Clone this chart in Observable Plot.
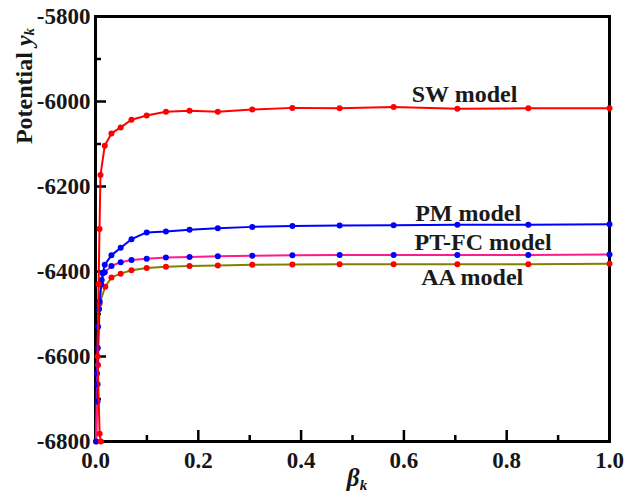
<!DOCTYPE html>
<html>
<head>
<meta charset="utf-8">
<script src="https://cdn.jsdelivr.net/npm/d3@7"></script>
<script src="https://cdn.jsdelivr.net/npm/@observablehq/plot@0.6"></script>
<style>
  html, body { margin: 0; padding: 0; background: #ffffff; }
  #chart { width: 625px; height: 493px; }
</style>
</head>
<body>
<div id="chart"></div>
<script>
// ---- Data ----
const swX = [0.0105, 0.008, 0.004, 0.006, 0.0078, 0.0097, 0.018, 0.031, 0.049, 0.070, 0.0996, 0.137, 0.183, 0.238, 0.305, 0.383, 0.475, 0.58, 0.704, 0.842, 1.0];
const swY = [-6800, -6782, -6600, -6430, -6300, -6173, -6104, -6075, -6061, -6043, -6033, -6024, -6022, -6024, -6019, -6015, -6016, -6013, -6017, -6016, -6016];

const pmX = [0.004, 0.004, 0.0045, 0.007, 0.011, 0.014, 0.018, 0.031, 0.049, 0.070, 0.0996, 0.137, 0.183, 0.238, 0.305, 0.383, 0.475, 0.58, 0.704, 0.842, 1.0];
const pmY = [-6706, -6665, -6580, -6488, -6430, -6404, -6384, -6362, -6344, -6324, -6308, -6306, -6302, -6298, -6295, -6293, -6292, -6291, -6290, -6290, -6289];

const ptX = [0.001, 0.003, 0.005, 0.008, 0.012, 0.018, 0.031, 0.049, 0.070, 0.0996, 0.137, 0.183, 0.238, 0.305, 0.383, 0.475, 0.58, 0.704, 0.842, 1.0];
const ptY = [-6800, -6640, -6530, -6470, -6420, -6402, -6387, -6378, -6373, -6370, -6367, -6366, -6364, -6363, -6362, -6361, -6361, -6361, -6361, -6360];

const aaX = [0.0015, 0.005, 0.008, 0.019, 0.031, 0.049, 0.070, 0.0996, 0.137, 0.183, 0.238, 0.305, 0.383, 0.475, 0.58, 0.704, 0.842, 1.0];
const aaY = [-6800, -6620, -6475, -6436, -6414, -6405, -6397, -6392, -6389, -6387, -6386, -6384, -6383.5, -6383, -6383, -6383, -6383, -6382];

const labelText = ["SW model", "PM model", "PT-FC model", "AA model"];
const labelX = [0.718, 0.725, 0.754, 0.733];
const labelY = [-5983, -6263, -6332, -6414];

const xMajor = [0, 0.2, 0.4, 0.6, 0.8, 1.0];
const xMinor = [0.1, 0.3, 0.5, 0.7, 0.9];
const yMajor = [-5800, -6000, -6200, -6400, -6600, -6800];
const yMinor = [-5900, -6100, -6300, -6500, -6700];

// ---- Build ----
const W = 625, H = 493;
const mL = 95, mR = 16, mT = 16, mB = 52;
const plotW = W - mL - mR, plotH = H - mT - mB;

const toRows = (xs, ys) => xs.map((x, i) => ({x, y: ys[i]}));
const sw = toRows(swX, swY);
const pm = toRows(pmX, pmY);
const pt = toRows(ptX, ptY);
const aa = toRows(aaX, aaY);
const labels = labelText.map((t, i) => ({t, x: labelX[i], y: labelY[i]}));

const font = "'Liberation Serif', 'Times New Roman', serif";

const chart = Plot.plot({
  width: W, height: H,
  marginLeft: mL, marginRight: mR, marginTop: mT, marginBottom: mB,
  x: {domain: [0, 1]},
  y: {domain: [-6800, -5800]},
  style: {fontFamily: font, fontWeight: "bold", fontSize: "23px", color: "#161616", background: "#ffffff", overflow: "visible"},
  marks: [
    // inward ticks
    Plot.ruleY(yMajor, {y: d => d, insetRight: plotW - 11, stroke: "#000", strokeWidth: 2.5}),
    Plot.ruleY(yMinor, {y: d => d, insetRight: plotW - 6, stroke: "#000", strokeWidth: 2.5}),
    Plot.ruleX(xMajor, {x: d => d, insetTop: plotH - 11, stroke: "#000", strokeWidth: 2.5}),
    Plot.ruleX(xMinor, {x: d => d, insetTop: plotH - 6, stroke: "#000", strokeWidth: 2.5}),
    Plot.frame({stroke: "#000", strokeWidth: 3}),
    Plot.axisY({ticks: yMajor, tickSize: 0, tickPadding: 5, tickFormat: d => String(d), label: null, fontSize: 23, fontWeight: "bold"}),
    Plot.axisX({ticks: xMajor, tickSize: 0, tickPadding: 10, tickFormat: d => d.toFixed(1), label: null, fontSize: 23, fontWeight: "bold"}),
    // series
    Plot.line(aa, {x: "x", y: "y", stroke: "#808000", strokeWidth: 2}),
    Plot.dot(aa, {x: "x", y: "y", fill: "#ff0000", r: 3}),
    Plot.line(pt, {x: "x", y: "y", stroke: "#ff1a8c", strokeWidth: 2}),
    Plot.dot(pt, {x: "x", y: "y", fill: "#0000ff", r: 3}),
    Plot.line(pm, {x: "x", y: "y", stroke: "#0000ff", strokeWidth: 2}),
    Plot.dot(pm, {x: "x", y: "y", fill: "#0000ff", r: 3}),
    Plot.line(sw, {x: "x", y: "y", stroke: "#ff0000", strokeWidth: 2}),
    Plot.dot(sw, {x: "x", y: "y", fill: "#ff0000", r: 3}),
    // model labels
    Plot.text(labels, {x: "x", y: "y", text: "t", fontSize: 24, fontWeight: "bold", fill: "#1a1a1a", lineAnchor: "middle"})
  ]
});

// Axis titles with italic/subscript parts
const svg = d3.select(chart);
const yl = svg.append("text")
  .attr("transform", "translate(24,86) rotate(-90)")
  .attr("text-anchor", "middle")
  .attr("dominant-baseline", "central")
  .style("font-family", font).style("font-weight", "bold").style("font-size", "24px")
  .attr("fill", "#161616");
yl.append("tspan").text("Potential ");
yl.append("tspan").style("font-style", "italic").text("y");
yl.append("tspan").style("font-style", "italic").style("font-size", "15px").attr("dy", "5").text("k");

const xl = svg.append("text")
  .attr("x", 357).attr("y", 486)
  .attr("text-anchor", "middle")
  .style("font-family", font).style("font-weight", "bold").style("font-size", "25px")
  .attr("fill", "#161616");
xl.append("tspan").style("font-style", "italic").text("β");
xl.append("tspan").style("font-style", "italic").style("font-size", "15px").attr("dy", "4").text("k");

document.getElementById("chart").appendChild(chart);
</script>
</body>
</html>
